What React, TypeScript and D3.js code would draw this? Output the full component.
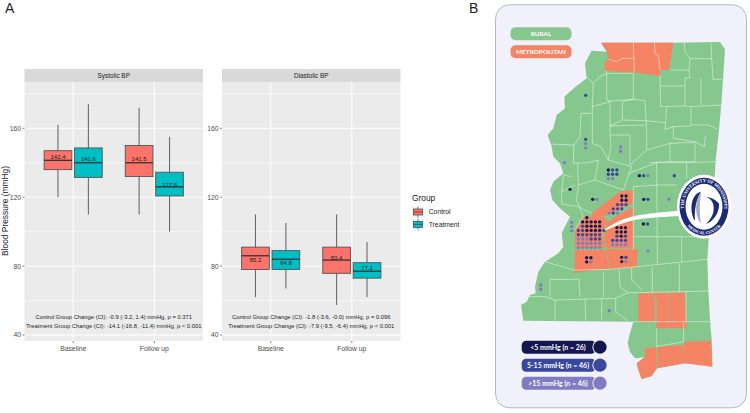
import React from 'react';
import * as d3 from 'd3';

// ---- panel A data ----
const times = ['Baseline', 'Follow up'];
const groups = ['Control', 'Treatment'];
const groupColors = ['#FB736A', '#00BFC4'];
const majorTicks = [40, 80, 120, 160];
const minorTicks = [60, 100, 140, 180];

// order of all arrays: baseline control, baseline treatment, follow up control, follow up treatment
const systolicLow = [120, 110, 110, 100];
const systolicQ1 = [136, 131.5, 132, 120.7];
const systolicMedian = [141.4, 140, 140, 126];
const systolicQ3 = [147, 148.6, 150, 134.5];
const systolicHigh = [162, 174, 172, 155];
const systolicMeans = ['142.4', '141.6', '141.5', '127.8'];
const systolicLabelAt = [143.3, 142.3, 142.3, 127.3];
const systolicNotes = [
  'Control Group Change (CI): -0.9 (-3.2, 1.4) mmHg, p = 0.371',
  'Treatment Group Change (CI): -14.1 (-16.8, -11.4) mmHg, p < 0.001',
];

const diastolicLow = [62, 67, 57.4, 62];
const diastolicQ1 = [78, 78, 75.8, 73];
const diastolicMedian = [86, 84, 83.5, 77];
const diastolicQ3 = [91, 89, 91, 82];
const diastolicHigh = [110, 105, 110, 94];
const diastolicMeans = ['85.2', '84.8', '83.4', '77.1'];
const diastolicLabelAt = [83.5, 81.8, 84.7, 79];
const diastolicNotes = [
  'Control Group Change (CI): -1.8 (-3.6, -0.0) mmHg, p = 0.096',
  'Treatment Group Change (CI): -7.9 (-9.5, -6.4) mmHg, p < 0.001',
];

// ---- panel B data, map units are 3 per picture pixel ----
type Pt = [number, number];
const stateOutline: Pt[] = [
  [318, 128], [535, 128], [675, 126], [690, 148], [680, 300], [672, 390], [662, 480], [655, 600], [642, 700],
  [637, 780], [640, 870], [645, 960], [650, 1020], [652, 1100], [610, 1092], [570, 1090], [530, 1097], [487, 1105],
  [470, 1128], [440, 1137], [432, 1115], [425, 1090], [448, 1072], [420, 1075], [405, 1055], [398, 1030], [405, 1000],
  [415, 965], [85, 962], [78, 915], [95, 905], [105, 885], [122, 880], [120, 860], [130, 815], [150, 785], [190, 760],
  [205, 740], [200, 700], [225, 650], [195, 625], [172, 600], [165, 570], [175, 545], [205, 520], [195, 490], [175, 470],
  [170, 440], [158, 405], [175, 385], [185, 345], [210, 325], [208, 290], [240, 262], [275, 235], [270, 190], [290, 152],
  [335, 155],
];
const metroCounties: Pt[][] = [
  [[318, 128], [535, 128], [522, 210], [495, 210], [495, 228], [425, 218], [330, 212], [328, 188], [340, 178], [335, 152]],
  [[290, 640], [375, 575], [415, 570], [415, 610], [330, 648], [290, 652]],
  [[265, 650], [325, 650], [340, 665], [320, 700], [330, 745], [240, 745], [240, 690]],
  [[360, 650], [415, 620], [415, 745], [335, 745], [325, 710], [340, 665]],
  [[240, 750], [330, 750], [345, 805], [238, 818]],
  [[332, 748], [428, 748], [425, 800], [347, 808]],
  [[430, 880], [465, 880], [480, 895], [480, 965], [430, 965]],
  [[465, 878], [518, 878], [518, 985], [485, 985], [485, 895]],
  [[520, 878], [570, 878], [573, 985], [520, 985]],
  [[567, 1025], [648, 1022], [652, 1100], [567, 1090]],
  [[487, 1040], [565, 1035], [567, 1090], [487, 1105]],
  [[450, 1045], [483, 1042], [485, 1105], [470, 1128], [440, 1137], [432, 1115], [425, 1090], [450, 1070]],
];
const countyLines: Pt[][] = [
  [[340, 178], [365, 185], [380, 175], [415, 175]],
  [[415, 128], [418, 218]],
  [[478, 128], [480, 160], [490, 165], [495, 210]],
  [[275, 232], [295, 248], [318, 228], [335, 222], [330, 212]],
  [[335, 222], [335, 300], [345, 305], [345, 405]],
  [[295, 248], [292, 320], [292, 430]],
  [[292, 320], [345, 305]],
  [[335, 220], [415, 220], [415, 298], [340, 303]],
  [[415, 298], [382, 305], [382, 360], [345, 378]],
  [[415, 298], [450, 302], [455, 395], [455, 450], [405, 495]],
  [[382, 360], [450, 362], [510, 368]],
  [[495, 225], [497, 320]],
  [[568, 128], [570, 155], [585, 176], [650, 176], [648, 128]],
  [[650, 176], [654, 238], [682, 238]],
  [[525, 210], [582, 210], [585, 176]],
  [[582, 210], [585, 232], [570, 235], [570, 318], [588, 320], [680, 315]],
  [[496, 258], [570, 258]],
  [[618, 235], [618, 315]],
  [[497, 320], [570, 318]],
  [[588, 320], [588, 375], [640, 375], [668, 388]],
  [[515, 322], [510, 388], [535, 380], [588, 378]],
  [[535, 380], [535, 415], [600, 425], [628, 440], [632, 405]],
  [[455, 450], [525, 430], [600, 427]],
  [[525, 430], [525, 485], [600, 485], [600, 428]],
  [[345, 378], [452, 375]],
  [[258, 340], [290, 340]],
  [[258, 340], [255, 410], [237, 435], [235, 490], [280, 488], [310, 480]],
  [[160, 432], [237, 435]],
  [[345, 405], [405, 405], [405, 495]],
  [[345, 405], [348, 440], [340, 480], [410, 500]],
  [[292, 430], [318, 440], [340, 480]],
  [[310, 480], [300, 540], [385, 570]],
  [[410, 500], [385, 570]],
  [[400, 520], [485, 488], [575, 488], [660, 485]],
  [[462, 488], [525, 485]],
  [[485, 488], [487, 790]],
  [[415, 560], [415, 750]],
  [[415, 560], [485, 555], [545, 555]],
  [[575, 488], [575, 535]],
  [[248, 490], [250, 555], [300, 540]],
  [[240, 555], [200, 575], [200, 612], [250, 620]],
  [[230, 530], [205, 525], [200, 575]],
  [[250, 620], [290, 640]],
  [[250, 555], [245, 600], [265, 650]],
  [[415, 710], [640, 710]],
  [[560, 710], [560, 785]],
  [[150, 785], [235, 810], [345, 808], [425, 800], [637, 778]],
  [[165, 838], [252, 838], [255, 890]],
  [[165, 838], [165, 890]],
  [[100, 890], [150, 890], [180, 900], [360, 895], [400, 878], [430, 878]],
  [[180, 900], [180, 962]],
  [[270, 895], [272, 962]],
  [[320, 895], [320, 962]],
  [[362, 895], [362, 935], [398, 962]],
  [[325, 815], [325, 892]],
  [[372, 810], [375, 862], [400, 878]],
  [[410, 805], [410, 840], [440, 870]],
  [[472, 800], [472, 875]],
  [[553, 790], [553, 875]],
  [[430, 878], [640, 873]],
  [[573, 875], [573, 965]],
  [[415, 965], [645, 965]],
  [[485, 985], [485, 1040]],
  [[566, 965], [566, 1025]],
  [[485, 1040], [566, 1025]],
  [[240, 690], [265, 650]],
];

// d = under 5 mmHg, b = 5-15 mmHg, l = over 15 mmHg, one row of marks per string
const dotColors: Record<string, string> = { d: '#14174f', b: '#39479c', l: '#7f7cc2' };
const dotGroups: { x: number; y: number; rows: string[] }[] = [
  { x: 272, y: 286, rows: ['b'] },
  { x: 272, y: 418, rows: ['b', 'l', 'l'] },
  { x: 377, y: 441, rows: ['l', 'l'] },
  { x: 208, y: 488, rows: ['l'] },
  { x: 340, y: 510, rows: ['dbb', 'bbb', 'll'] },
  { x: 433, y: 527, rows: ['dbl'] },
  { x: 538, y: 527, rows: ['b'] },
  { x: 225, y: 568, rows: ['d'] },
  { x: 293, y: 598, rows: ['dl'] },
  { x: 446, y: 598, rows: ['db'] },
  { x: 522, y: 598, rows: ['l'] },
  { x: 230, y: 667, rows: ['l', 'l', 'l'] },
  { x: 445, y: 672, rows: ['db'] },
  { x: 459, y: 753, rows: ['l'] },
  { x: 137, y: 855, rows: ['l', 'l'] },
  { x: 343, y: 932, rows: ['l'] },
  { x: 275, y: 773, rows: ['dd', 'dl'] },
  { x: 380, y: 772, rows: ['db', 'dl'] },
  // Madison
  { x: 342, y: 588, rows: ['...dd', '...dd', '..bbb', '.bbb.', 'lbl..'] },
  // Hinds
  { x: 250, y: 653, rows: ['..d....', '.ddddd.', '.bdddd.', 'bbddddb', 'bbbbbb.', 'lllbbb.', 'llllll.', 'llllll.'] },
  // Rankin
  { x: 353, y: 683, rows: ['.ddd', '.ddd', '.bdb', 'bbbb', 'llll'] },
];
const dotSpacing = 12.8;

const areaLegend = [
  { label: 'RURAL', color: '#85c78d' },
  { label: 'METROPOLITAN', color: '#f58465' },
];
const changeLegend = [
  { label: '<5 mmHg (n = 26)', color: '#14174f' },
  { label: '5-15 mmHg (n = 46)', color: '#39479c' },
  { label: '>15 mmHg (n = 46)', color: '#7f7cc2' },
];

// ---- scales ----
const y = d3.scaleLinear().domain([40, 160]).range([335, 128.3]);
const mapX = d3.scaleLinear().domain([0, 765]).range([495, 750]);
const mapY = d3.scaleLinear().domain([0, 1239]).range([0, 413]);
const mapLine = d3.line<Pt>().x((d) => mapX(d[0])).y((d) => mapY(d[1]));
const mapCurve = d3.line<Pt>().x((d) => mapX(d[0])).y((d) => mapY(d[1])).curve(d3.curveBasis);

const sans = '"Liberation Sans", Arial, sans-serif';
const panelTop = 82;
const panelBottom = 341;

type FacetProps = {
  left: number;
  title: string;
  low: number[];
  q1: number[];
  median: number[];
  q3: number[];
  high: number[];
  means: string[];
  labelAt: number[];
  notes: string[];
};

const Facet = ({ left, title, low, q1, median, q3, high, means, labelAt, notes }: FacetProps) => {
  const width = 178.5;
  const x = d3.scalePoint().domain(times).range([left, left + width]).padding(0.6);
  const step = x.step();
  const dodge = d3.scaleBand().domain(groups).range([-0.375 * step, 0.375 * step]).paddingInner(0.09).paddingOuter(0.045);
  const cells = times.flatMap((t) => groups.map((g) => ({ t, g })));
  return (
    <g>
      <rect x={left} y={69} width={width} height={panelTop - 69} fill="#d9d9d9" />
      <text x={left + width / 2} y={78} textAnchor="middle" fontSize={6.4} fill="#1a1a1a">{title}</text>
      <rect x={left} y={panelTop} width={width} height={panelBottom - panelTop} fill="#ebebeb" />
      {minorTicks.map((t) => (
        <line key={t} x1={left} x2={left + width} y1={y(t)} y2={y(t)} stroke="#fff" strokeWidth={0.6} />
      ))}
      {majorTicks.map((t) => (
        <line key={t} x1={left} x2={left + width} y1={y(t)} y2={y(t)} stroke="#fff" strokeWidth={1} />
      ))}
      {times.map((t) => (
        <g key={t}>
          <line x1={x(t)} x2={x(t)} y1={panelTop} y2={panelBottom} stroke="#fff" strokeWidth={1} />
          <line x1={x(t)} x2={x(t)} y1={panelBottom} y2={panelBottom + 2} stroke="#333" strokeWidth={0.6} />
          <text x={x(t)} y={351} textAnchor="middle" fontSize={6.8} fill="#4d4d4d">{t}</text>
        </g>
      ))}
      {majorTicks.map((t) => (
        <g key={t}>
          <line x1={left - 2} x2={left} y1={y(t)} y2={y(t)} stroke="#333" strokeWidth={0.6} />
          <text x={left - 3.5} y={y(t) + 2.4} textAnchor="end" fontSize={6.8} fill="#4d4d4d">{t}</text>
        </g>
      ))}
      {cells.map(({ t, g }, i) => {
        const bx = (x(t) as number) + (dodge(g) as number);
        const w = dodge.bandwidth();
        const cx = bx + w / 2;
        return (
          <g key={i}>
            <line x1={cx} x2={cx} y1={y(high[i])} y2={y(low[i])} stroke="#6b6b6b" strokeWidth={1.1} />
            <rect x={bx} y={y(q3[i])} width={w} height={y(q1[i]) - y(q3[i])} fill={groupColors[groups.indexOf(g)]} stroke="#555" strokeWidth={0.9} />
            <line x1={bx} x2={bx + w} y1={y(median[i])} y2={y(median[i])} stroke="#333" strokeWidth={1.3} />
            <text x={cx} y={y(labelAt[i]) + 2} textAnchor="middle" fontSize={6} fill="#222">{means[i]}</text>
          </g>
        );
      })}
      {notes.map((n, i) => (
        <text key={n} x={left + width / 2} y={319.3 + i * 8.9} textAnchor="middle" fontSize={5.83} fill="#222">{n}</text>
      ))}
    </g>
  );
};

const App = () => {
  const logoX = 704;
  const logoY = 206.7;
  const dots = dotGroups.flatMap((g) =>
    g.rows.flatMap((row, r) =>
      row.split('').flatMap((c, k) => (c === '.' ? [] : [{ x: g.x + k * dotSpacing, y: g.y + r * dotSpacing, c }])),
    ),
  );
  // text baselines on the logo ring, both ends at the same angle below the horizontal
  const topEnd = { x: 20.3 * Math.cos(0.3), y: 24.6 * Math.sin(0.3) };
  const bottomEnd = { x: 23.2 * Math.cos(0.45), y: 27.6 * Math.sin(0.45) };
  return (
    <svg width={750} height={413} style={{ position: 'absolute', left: 0, top: 0, fontFamily: sans }}>
      <rect width={750} height={413} fill="#fff" />
      <text x={5} y={13} fontSize={14} fill="#222">A</text>
      <text x={469} y={13} fontSize={14} fill="#222">B</text>

      <text transform="translate(8,211) rotate(-90)" textAnchor="middle" fontSize={8.4} fill="#222">Blood Pressure (mmHg)</text>
      <Facet left={24.5} title="Systolic BP" low={systolicLow} q1={systolicQ1} median={systolicMedian} q3={systolicQ3} high={systolicHigh} means={systolicMeans} labelAt={systolicLabelAt} notes={systolicNotes} />
      <Facet left={222} title="Diastolic BP" low={diastolicLow} q1={diastolicQ1} median={diastolicMedian} q3={diastolicQ3} high={diastolicHigh} means={diastolicMeans} labelAt={diastolicLabelAt} notes={diastolicNotes} />

      <text x={412} y={201} fontSize={8.4} fill="#222">Group</text>
      {groups.map((g, i) => {
        const top = 206 + i * 12.4;
        return (
          <g key={g}>
            <rect x={412} y={top} width={12} height={12} fill="#f2f2f2" />
            <line x1={418} x2={418} y1={top + 0.5} y2={top + 11.5} stroke="#555" strokeWidth={0.7} />
            <rect x={413.5} y={top + 3} width={9} height={6} fill={groupColors[i]} stroke="#444" strokeWidth={0.7} />
            <line x1={413.5} x2={422.5} y1={top + 6} y2={top + 6} stroke="#333" strokeWidth={0.7} />
            <text x={428.7} y={top + 8.4} fontSize={6.8} fill="#222">{g}</text>
          </g>
        );
      })}

      <rect x={495.5} y={4.8} width={251} height={403} rx={14} fill="#f0f1fa" stroke="#b4b7cc" strokeWidth={1} />
      {areaLegend.map((d, i) => (
        <g key={d.label}>
          <rect x={510.5} y={27.3 + i * 18} width={61} height={13} rx={5} fill={d.color} />
          <text x={541} y={36.4 + i * 18} textAnchor="middle" fontSize={6.4} fontWeight={700} fontFamily="Lato" fill="#fff">{d.label}</text>
        </g>
      ))}

      <path d={mapLine(stateOutline) + 'Z'} fill="#85c78d" />
      {metroCounties.map((c, i) => (
        <path key={i} d={mapLine(c) + 'Z'} fill="#f58465" />
      ))}
      {countyLines.map((c, i) => (
        <path key={i} d={mapLine(c) as string} fill="none" stroke="#fff" strokeOpacity={0.7} strokeWidth={0.65} />
      ))}
      {dots.map((d, i) => (
        <circle key={i} cx={mapX(d.x)} cy={mapY(d.y)} r={1.65} fill={dotColors[d.c]} />
      ))}

      <path d={mapCurve([[555, 632], [470, 640], [410, 648], [365, 665], [322, 692], [330, 692], [375, 672], [420, 658], [480, 652], [555, 648]] as Pt[]) as string} fill="#fff" />

      <ellipse cx={logoX} cy={logoY} rx={27} ry={32} fill="#fff" />
      <ellipse cx={logoX} cy={logoY} rx={24.5} ry={29} fill="#1b2a78" />
      <ellipse cx={logoX} cy={logoY} rx={18.5} ry={23} fill="#fff" />
      <path id="logoTop" d={`M${logoX - topEnd.x},${logoY + topEnd.y} A20.3,24.6 0 1 1 ${logoX + topEnd.x},${logoY + topEnd.y}`} fill="none" />
      <path id="logoBottom" d={`M${logoX - bottomEnd.x},${logoY + bottomEnd.y} A23.2,27.6 0 0 0 ${logoX + bottomEnd.x},${logoY + bottomEnd.y}`} fill="none" />
      <text fontSize={4.5} fontWeight={700} fill="#fff" fontFamily='"Liberation Serif", serif'>
        <textPath href="#logoTop" startOffset="50%" textAnchor="middle">THE UNIVERSITY OF MISSISSIPPI</textPath>
      </text>
      <text fontSize={4.2} fontWeight={700} fill="#fff" fontFamily='"Liberation Serif", serif'>
        <textPath href="#logoBottom" startOffset="50%" textAnchor="middle">MEDICAL CENTER</textPath>
      </text>
      <path d={`M${logoX - 3},${logoY - 15} C${logoX - 15},${logoY - 12} ${logoX - 14},${logoY + 8} ${logoX - 9},${logoY + 14} C${logoX - 10},${logoY + 4} ${logoX - 8},${logoY - 7} ${logoX - 3},${logoY - 15}Z`} fill="#1b2a78" />
      <path d={`M${logoX - 3},${logoY - 15} C${logoX - 9},${logoY - 6} ${logoX - 10},${logoY + 8} ${logoX - 3},${logoY + 17} C${logoX - 5},${logoY + 5} ${logoX - 4},${logoY - 6} ${logoX - 3},${logoY - 15}Z`} fill="#a9acb5" />
      <path d={`M${logoX + 1},${logoY - 10} C${logoX + 12},${logoY - 8} ${logoX + 13},${logoY + 8} ${logoX + 2},${logoY + 17} C${logoX + 8},${logoY + 16} ${logoX + 16},${logoY + 6} ${logoX + 15},${logoY - 3} C${logoX + 12},${logoY - 7} ${logoX + 6},${logoY - 10} ${logoX + 1},${logoY - 10}Z`} fill="#1b2a78" />

      {changeLegend.map((d, i) => {
        const top = 340.7 + i * 18;
        return (
          <g key={d.label}>
            <rect x={521.7} y={top} width={74} height={13} rx={4.5} fill={d.color} />
            <circle cx={600} cy={top + 6.5} r={7.6} fill="#f0f1fa" />
            <circle cx={600} cy={top + 6.5} r={6.6} fill={d.color} />
            <text x={558} y={top + 9.2} textAnchor="middle" fontSize={7} fontWeight={700} fontFamily="Lato" fill="#fff">{d.label}</text>
          </g>
        );
      })}
    </svg>
  );
};

export default App;
